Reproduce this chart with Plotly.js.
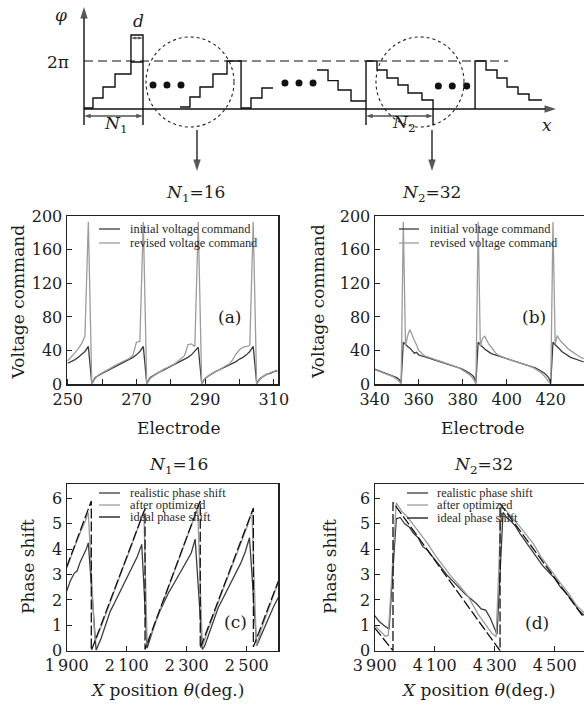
<!DOCTYPE html>
<html><head><meta charset="utf-8">
<script src="https://cdn.plot.ly/plotly-3.0.1.min.js"></script>
<style>html,body{margin:0;padding:0;background:#fff;}#chart{width:584px;height:708px;}</style>
</head><body><div id="chart"></div>
<script>
// ---------------- DATA ----------------
// (a) N1 = 16
const electrodesA = [250,251,252,253,254,255,256,257,258,259,260,261,262,263,264,265,266,267,268,269,270,271,272,273,274,275,276,277,278,279,280,281,282,283,284,285,286,287,288,289,290,291,292,293,294,295,296,297,298,299,300,301,302,303,304,305,306,307,308,309,310,311];
const initialA = [25,27,29,32,35,39,45, 1,8,11,13,15,17,19,21,23,25,27,29,32,35,39,45, 1,8,11,13,15,17,19,21,23,25,27,29,32,35,39,44, 1,7,10,13,15,17,19,21,23,25,27,30,32,35,39,45, 1,7,10,12,13,15,16];
const revisedA = [28,32,37,42,48,57,193, 0,7,11,14,16,18,21,23,25,27,29,31,35,50,51,193, 0,7,10,13,15,18,20,22,24,27,30,34,47,48,45,193, 0,7,10,13,15,17,20,22,24,29,36,41,44,45,46,193, 0,6,10,12,14,16,17];

// (b) N2 = 32
const electrodesB = [340,341,342,343,344,345,346,347,348,349,350,351,352,353,354,355,356,357,358,359,360,361,362,363,364,365,366,367,368,369,370,371,372,373,374,375,376,377,378,379,380,381,382,383,384,385,386,387,388,389,390,391,392,393,394,395,396,397,398,399,400,401,402,403,404,405,406,407,408,409,410,411,412,413,414,415,416,417,418,419,420,421,422,423,424,425,426,427,428,429,430,431,432,433,434,435];
const initialB = [18,17,16.2,15.4,14.6,13.7,12.8,11.8,10.8,9.6,8,6,2,
  50,47,45,43,40,37,38,35,34,33,32.4,31.6,30.8,30,29.2,28.4,27.6,26.8,26,25.2,24.4,23.6,22.8,22,21,20,19,17.8,16.5,15,13.5,11.5,9,2,
  50,47,44,42,40,38,36.5,35.5,34.5,33.6,32.8,32,31.2,30.4,29.6,28.8,28,27.2,26.4,25.6,24.8,24,23.2,22.4,21.5,20.5,19.4,18.2,16.8,15.2,13.4,11,8,2,
  50,47,45,42,39,37,35,33.5,32,31,30,29,28,27,26.5];
const revisedB = [17.5,16.5,15.6,14.8,14,13,12,10.8,9.5,8,6,3.5,0.5,
  193,46,58,65,58,52,47,40,38,35,33.5,32.5,31.5,30.6,29.8,28.9,28,27.1,26.3,25.4,24.6,23.8,23,22,21,19.8,18.5,17,15.5,13.5,11.5,9,5.5,0.5,
  193,45,55,57,51,47,44,40,37,35,33.5,32.5,31.5,30.6,29.8,28.9,28,27.1,26.3,25.4,24.6,23.8,23,22,21,19.8,18.4,16.8,15,12.8,10.2,7,3,0.5,
  193,48,58,53,50,47,44,42,40,38,36,34.5,33,31.5,30.5];

// (c) N1 = 16, phase shift vs X position
const realC_x = [1900,1912,1925,1935,1945,1955,1965,1972,1998,2015,2030,2045,2060,2075,2090,2105,2120,2135,2150,2168,2180,2195,2210,2225,2240,2255,2270,2285,2300,2315,2328,2352,2360,2375,2390,2405,2420,2435,2450,2465,2480,2495,2509,2533,2545,2560,2575,2590,2605];
const realC_y = [2.35,2.75,3.05,3.15,3.5,3.75,4.0,4.25,0.02,0.5,1.05,1.55,1.9,2.25,2.6,2.95,3.35,3.7,4.19,0.1,0.55,1.1,1.55,1.95,2.3,2.6,2.9,3.2,3.5,3.85,4.4,0.05,0.2,0.7,1.2,1.7,2.05,2.4,2.75,3.1,3.45,3.9,4.45,0.2,0.55,0.95,1.35,1.75,2.1];
const optC_x = [1900,1915,1930,1945,1960,1972,1994,2010,2030,2050,2070,2090,2110,2130,2145,2157,2168,2185,2205,2225,2245,2265,2285,2305,2325,2336,2352,2370,2390,2410,2430,2450,2470,2490,2505,2517,2532,2550,2570,2590,2605];
const optC_y = [3.25,3.75,4.2,4.65,5.05,5.45,0.35,0.8,1.45,2.1,2.75,3.35,3.95,4.6,5.1,5.5,0.3,0.75,1.4,2.05,2.65,3.3,3.95,4.6,5.25,5.7,0.15,0.8,1.45,2.05,2.7,3.3,3.9,4.55,5.0,5.5,0.2,0.9,1.55,2.2,2.7];
const idealC_x = [1900,1982,1982,2161,2161,2345,2345,2522,2522,2605];
const idealC_y = [3.3,5.9,0.0,5.6,0.05,5.9,0.1,5.62,0.15,2.74];

// (d) N2 = 32
const realD_x = [3900,3915,3930,3948,3972,3985,4000,4015,4030,4045,4060,4075,4090,4105,4120,4140,4160,4180,4200,4220,4240,4255,4270,4285,4300,4308,4328,4340,4355,4370,4385,4400,4420,4440,4460,4480,4500,4520,4540,4560,4580,4598];
const realD_y = [1.38,1.15,1.0,0.85,5.2,5.25,5.0,4.88,4.62,4.45,4.1,3.98,3.75,3.5,3.3,3.0,2.75,2.5,2.25,2.05,1.85,1.65,1.6,1.3,0.9,0.65,5.45,5.25,5.1,4.9,4.6,4.35,4.0,3.7,3.35,3.1,2.85,2.5,2.25,1.95,1.6,1.4];
const optD_x = [3900,3915,3935,3945,3972,3990,4011,4030,4055,4078,4100,4125,4155,4180,4211,4244,4270,4290,4305,4322,4340,4355,4380,4400,4430,4455,4480,4500,4520,4544,4575,4598];
const optD_y = [1.0,0.8,0.57,0.6,5.83,5.5,5.24,4.95,4.58,4.2,3.79,3.4,2.93,2.6,2.15,1.45,1.0,0.7,0.55,5.7,5.5,5.3,4.95,4.65,4.2,3.7,3.3,2.95,2.65,2.3,1.75,1.5];
const idealD_x = [3900,3961,3961,4318,4318,4598];
const idealD_y = [0.9,0.0,5.85,0.0,5.8,1.3];

// tick labels
const ticksA = [250,270,290,310];
const ticksB = [340,360,380,400,420];
const ticksVolt = [0,40,80,120,160,200];
const ticksC = [1900,2100,2300,2500];
const ticksD = [3900,4100,4300,4500];
const ticksPhase = [0,1,2,3,4,5,6];
const legendVolt = ['initial voltage command','revised voltage command'];
const legendPhase = ['realistic phase shift','after optimized','ideal phase shift'];

// schematic (diagram units: x in electrode steps d, y in phase radians)
const TWO_PI = 2*Math.PI;
const s1_edges = [0,0.76,1.61,2.63,3.98,5.0],          s1_lv = [0.13,1.44,2.88,4.58,6.15];
const s2_edges = [8.14,8.98,9.83,10.93,12.12,13.31],   s2_lv = [0.26,1.57,2.88,4.58,6.28];
const s3_edges = [13.31,14.15,15.08,16.02],            s3_lv = [0.13,1.44,2.75];
const s4_edges = [19.75,20.68,21.53,22.63,23.90],      s4_lv = [5.10,3.72,2.49,1.05];
const s5_edges = [23.90,24.83,25.68,26.61,27.46,28.64,29.58], s5_lv = [6.28,5.10,4.06,3.14,2.09,1.18];
const s6_edges = [33.14,34.07,35.0,35.85,36.78,37.71,38.81],  s6_lv = [6.28,5.10,4.06,2.88,1.96,1.18];
const dots_u = [5.85,7.03,8.22, 17.03,18.22,19.41, 30.03,31.21,32.43];
const dots_phi = [3.14,3.14,3.14, 3.4,3.4,3.4, 3.01,3.01,3.01];

// ---------------- STYLE ----------------
const SERIF = 'DejaVu Serif, serif';
const LEGF = 'Liberation Serif, serif';
const INK = '#1c1c1c';
const DARK = '#3c3c3c', LIGHT = '#9c9c9c', IDEAL = '#111111';
const W = 584, H = 708;
const PX = v => v/W, PY = v => 1 - v/H;
// schematic geometry helpers (pixel reading -> diagram units), used for decorations
const D = 11.8, OX = 84, OY = 109, K = TWO_PI/48;
const SU = p => (p-OX)/D, SP = p => (OY-p)*K;

function stairs(edges, lv){ return {x: edges.slice(), y: lv.concat([lv[lv.length-1]])}; }

const traces = [];
// (a)
traces.push({x: electrodesA, y: initialA, type:'scatter', mode:'lines', name: legendVolt[0], xaxis:'x', yaxis:'y', line:{color:DARK,width:1.3}, showlegend:false});
traces.push({x: electrodesA, y: revisedA, type:'scatter', mode:'lines', name: legendVolt[1], xaxis:'x', yaxis:'y', line:{color:LIGHT,width:1.3}, showlegend:false});
// (b)
traces.push({x: electrodesB, y: initialB, type:'scatter', mode:'lines', name: legendVolt[0], xaxis:'x2', yaxis:'y2', line:{color:DARK,width:1.3}, showlegend:false});
traces.push({x: electrodesB, y: revisedB, type:'scatter', mode:'lines', name: legendVolt[1], xaxis:'x2', yaxis:'y2', line:{color:LIGHT,width:1.3}, showlegend:false});
// (c)
traces.push({x: realC_x, y: realC_y, type:'scatter', mode:'lines', name: legendPhase[0], xaxis:'x3', yaxis:'y3', line:{color:DARK,width:1.3}, showlegend:false});
traces.push({x: optC_x, y: optC_y, type:'scatter', mode:'lines', name: legendPhase[1], xaxis:'x3', yaxis:'y3', line:{color:LIGHT,width:1.3}, showlegend:false});
traces.push({x: idealC_x, y: idealC_y, type:'scatter', mode:'lines', name: legendPhase[2], xaxis:'x3', yaxis:'y3', line:{color:IDEAL,width:1.3,dash:'10px,3px'}, showlegend:false});
// (d)
traces.push({x: realD_x, y: realD_y, type:'scatter', mode:'lines', name: legendPhase[0], xaxis:'x4', yaxis:'y4', line:{color:DARK,width:1.3}, showlegend:false});
traces.push({x: optD_x, y: optD_y, type:'scatter', mode:'lines', name: legendPhase[1], xaxis:'x4', yaxis:'y4', line:{color:LIGHT,width:1.3}, showlegend:false});
traces.push({x: idealD_x, y: idealD_y, type:'scatter', mode:'lines', name: legendPhase[2], xaxis:'x4', yaxis:'y4', line:{color:IDEAL,width:1.3,dash:'10px,3px'}, showlegend:false});

// schematic traces
const sl = {color:'#111', width:1.4};
function addStair(st, extraX, extraY, pre){
  let x = st.x, y = st.y;
  if (pre){ x = pre.x.concat(x); y = pre.y.concat(y); }
  if (extraX){ x = x.concat(extraX); y = y.concat(extraY); }
  traces.push({x:x, y:y, type:'scatter', mode:'lines', line:Object.assign({shape:'hv'}, sl), xaxis:'x5', yaxis:'y5', showlegend:false, hoverinfo:'skip'});
}
addStair(stairs(s1_edges, s1_lv));
addStair(stairs(s2_edges, s2_lv), [s2_edges[5]], [0]);
addStair(stairs(s3_edges, s3_lv));
addStair(stairs(s4_edges, s4_lv), [s4_edges[4], s4_edges[4]], [0, TWO_PI]);
addStair(stairs(s5_edges, s5_lv), [s5_edges[6]], [0]);
addStair(stairs(s6_edges, s6_lv), null, null, {x:[s6_edges[0]], y:[0]});
// d-rectangle, bracket ticks
traces.push({x:[s1_edges[4], s1_edges[4], s1_edges[5], s1_edges[5]], y:[s1_lv[4], SP(35), SP(35), SP(125)], type:'scatter', mode:'lines', line:sl, xaxis:'x5', yaxis:'y5', showlegend:false, hoverinfo:'skip'});
traces.push({x:[s5_edges[0], s5_edges[0], null, s5_edges[6], s5_edges[6]], y:[0, SP(125), null, 0, SP(125)], type:'scatter', mode:'lines', line:sl, xaxis:'x5', yaxis:'y5', showlegend:false, hoverinfo:'skip'});
// 2π dashed line
traces.push({x:[0, SU(508)], y:[TWO_PI, TWO_PI], type:'scatter', mode:'lines', line:{color:'#111', width:1.2, dash:'9px,5px'}, xaxis:'x5', yaxis:'y5', showlegend:false, hoverinfo:'skip'});
// dots
traces.push({x:dots_u, y:dots_phi, type:'scatter', mode:'markers', marker:{color:'#111', size:7}, xaxis:'x5', yaxis:'y5', showlegend:false, hoverinfo:'skip'});

// arrows (line + arrow-shaped marker at the head)
function arrowTr(x0, y0, x1, y1, size, width){
  traces.push({x:[x0,x1], y:[y0,y1], type:'scatter', mode:'lines+markers', xaxis:'x5', yaxis:'y5', showlegend:false, hoverinfo:'skip',
    line:{color:'#111', width:width},
    marker:{symbol:'arrow', angleref:'previous', size:[0,size], color:'#111', line:{width:0}}});
}
arrowTr(0, SP(125), 0, SP(7), 12, 1.4);                 // phase axis
arrowTr(0, 0, SU(556), 0, 12, 1.4);                     // x axis
arrowTr(SU(197), SP(130), SU(197), SP(171), 12, 1.3);    // down arrow 1
arrowTr(SU(432), SP(130), SU(432), SP(171), 12, 1.3);    // down arrow 2
const dMid = (s1_edges[4]+s1_edges[5])/2;
arrowTr(dMid, SP(38), s1_edges[4], SP(38), 5, 1);        // d
arrowTr(dMid, SP(38), s1_edges[5], SP(38), 5, 1);
const n1Mid = s1_edges[5]/2;
arrowTr(n1Mid, SP(116), 0, SP(116), 7, 1.1);             // N1
arrowTr(n1Mid, SP(116), s1_edges[5], SP(116), 7, 1.1);
const n2Mid = (s5_edges[0]+s5_edges[6])/2;
arrowTr(n2Mid, SP(116), s5_edges[0], SP(116), 7, 1.1);   // N2
arrowTr(n2Mid, SP(116), s5_edges[6], SP(116), 7, 1.1);

// ---------------- LAYOUT ----------------
const axBase = {showline:true, linecolor:'#222', linewidth:1.2, mirror:true, ticks:'inside', ticklen:5, tickcolor:'#222', tickwidth:1, showgrid:false, zeroline:false, fixedrange:true, tickfont:{family:SERIF, size:16, color:INK}};
function ax(o){ return Object.assign({}, axBase, o); }
const domAX = [66.7/W, 278.3/W], domBX = [374.7/W, 1];
const domTopY = [PY(384.3), PY(216)], domBotY = [PY(650.7), PY(484)];

const layout = {
  width: W, height: H, margin:{l:0,r:0,t:0,b:0}, paper_bgcolor:'#fff', plot_bgcolor:'rgba(0,0,0,0)',
  showlegend:false, font:{family:SERIF, color:INK},
  xaxis: ax({domain:domAX, anchor:'y', range:[249.7,311.3], tickmode:'array', tickvals:ticksA, minor:{dtick:10, tick0:250, ticks:'inside', ticklen:5, tickcolor:'#222'}}),
  yaxis: ax({domain:domTopY, anchor:'x', range:[0,200], tickmode:'array', tickvals:ticksVolt}),
  xaxis2: ax({domain:domBX, anchor:'y2', range:[340,435.1], tickmode:'array', tickvals:ticksB}),
  yaxis2: ax({domain:domTopY, anchor:'x2', range:[0,200], tickmode:'array', tickvals:ticksVolt, mirror:false}),
  xaxis3: ax({domain:domAX, anchor:'y3', range:[1900,2605], tickmode:'array', tickvals:ticksC, ticktext:ticksC.map(v=>String(v).replace(/^(\d)/,'$1\u2009'))}),
  yaxis3: ax({domain:domBotY, anchor:'x3', range:[0,6.57], tickmode:'array', tickvals:ticksPhase}),
  xaxis4: ax({domain:domBX, anchor:'y4', range:[3900,4598], tickmode:'array', tickvals:ticksD, ticktext:ticksD.map(v=>String(v).replace(/^(\d)/,'$1\u2009'))}),
  yaxis4: ax({domain:domBotY, anchor:'x4', range:[0,6.57], tickmode:'array', tickvals:ticksPhase, mirror:false}),
  xaxis5: {domain:[0,1], anchor:'y5', range:[SU(0), SU(W)], visible:false, fixedrange:true},
  yaxis5: {domain:[PY(180),1], anchor:'x5', range:[SP(180), SP(0)], visible:false, fixedrange:true},
  shapes: [], annotations: []
};

// circles in schematic
layout.shapes.push({type:'circle', xref:'x5', yref:'y5', x0:SU(146), x1:SU(234), y0:SP(127), y1:SP(37), line:{color:'#222', width:1.1, dash:'dot'}});
layout.shapes.push({type:'circle', xref:'x5', yref:'y5', x0:SU(376), x1:SU(464), y0:SP(127), y1:SP(37), line:{color:'#222', width:1.1, dash:'dot'}});

// schematic labels
function slab(text, px, py, size){
  layout.annotations.push({xref:'x5', yref:'y5', x:SU(px), y:SP(py), text:text, showarrow:false, font:{family:SERIF, size:size||17, color:INK}, xanchor:'center', yanchor:'middle'});
}
slab('<i>φ</i>', 61, 15);
slab('2π', 58, 62);
slab('<i>d</i>', 138, 21);
slab('<i>N</i><sub>1</sub>', 115, 124);
slab('<i>N</i><sub>2</sub>', 403, 123);
slab('<i>x</i>', 547, 125);

// paper text helper
function ptext(text, x, y, size, opts){
  layout.annotations.push(Object.assign({xref:'paper', yref:'paper', x:PX(x), y:PY(y), text:text, showarrow:false, xanchor:'center', yanchor:'middle', font:{family:SERIF, size:size, color:INK}}, opts||{}));
}
// panel titles
ptext('<i>N</i><sub>1</sub>=16', 195, 193, 17);
ptext('<i>N</i><sub>2</sub>=32', 431, 193, 17);
ptext('<i>N</i><sub>1</sub>=16', 178, 465, 17);
ptext('<i>N</i><sub>2</sub>=32', 483, 465, 17);
// axis titles
ptext('Voltage command', 17.5, 302, 17, {textangle:-90});
ptext('Voltage command', 318, 302, 17, {textangle:-90});
ptext('Phase shift', 28, 567, 17, {textangle:-90});
ptext('Phase shift', 330, 567, 17, {textangle:-90});
ptext('Electrode', 179, 428, 17);
ptext('Electrode', 483, 428, 17);
ptext('<i>X</i> position <i>θ</i>(deg.)', 167, 690, 17);
ptext('<i>X</i> position <i>θ</i>(deg.)', 478, 690, 17);
// panel labels
ptext('(a)', 229, 317, 17);
ptext('(b)', 534, 317, 17);
ptext('(c)', 235, 622, 17);
ptext('(d)', 537, 623, 17);

// manual legends
function legendRow(x0, x1, xt, y, color, text, dash){
  layout.shapes.push({type:'line', xref:'paper', yref:'paper', x0:PX(x0), x1:PX(x1), y0:PY(y), y1:PY(y), line:{color:color, width:1.3, dash:dash||'solid'}});
  layout.annotations.push({xref:'paper', yref:'paper', x:PX(xt), y:PY(y), text:text, showarrow:false, xanchor:'left', yanchor:'middle', font:{family:LEGF, size:12.4, color:'#2a2a2a'}});
}
legendRow(99, 120, 128, 229, DARK, legendVolt[0]);
legendRow(99, 120, 128, 243, LIGHT, legendVolt[1]);
legendRow(399, 419, 428, 229, DARK, legendVolt[0]);
legendRow(399, 419, 428, 243, LIGHT, legendVolt[1]);
legendRow(99, 120, 128, 493, DARK, legendPhase[0]);
legendRow(99, 120, 128, 505, LIGHT, legendPhase[1]);
legendRow(99, 120, 128, 517, IDEAL, legendPhase[2]);
legendRow(407, 428, 435, 493, DARK, legendPhase[0]);
legendRow(407, 428, 435, 505, LIGHT, legendPhase[1]);
legendRow(407, 428, 435, 518, IDEAL, legendPhase[2]);

Plotly.newPlot('chart', traces, layout, {displayModeBar:false, staticPlot:true});
</script></body></html>
